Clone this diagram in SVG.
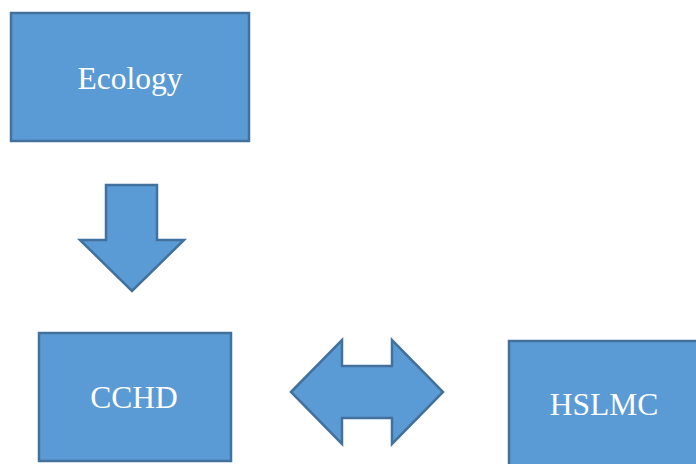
<svg xmlns="http://www.w3.org/2000/svg" width="696" height="464" viewBox="0 0 696 464">
<style>
.box{fill:#5B9BD5;stroke:#41719C;stroke-width:2.5}
.arr{fill:#5B9BD5;stroke:#41719C;stroke-width:2.5;stroke-linejoin:miter}
.lbl{font-family:"Liberation Serif","Times New Roman",serif;font-size:31.5px;fill:#FFFFFF;text-anchor:middle}
</style>
<rect width="696" height="464" fill="#FFFFFF"/>
<g id="ecology">
<rect class="box" x="11" y="13" width="238" height="128"/>
<text class="lbl" x="130" y="89">Ecology</text>
</g>
<g id="cchd">
<rect class="box" x="39" y="333" width="192" height="128"/>
<text class="lbl" x="134" y="408">CCHD</text>
</g>
<g id="hslmc">
<rect class="box" x="509" y="341" width="200" height="140"/>
<text class="lbl" x="604" y="415">HSLMC</text>
</g>
<g id="connectors">
<polygon class="arr" points="106,185 157,185 157,240 184,240 132,291 80,240 106,240"/>
<polygon class="arr" points="291,392 342,340 342,366 392,366 392,340 443,392 392,444 392,418 342,418 342,444"/>
</g>
</svg>
